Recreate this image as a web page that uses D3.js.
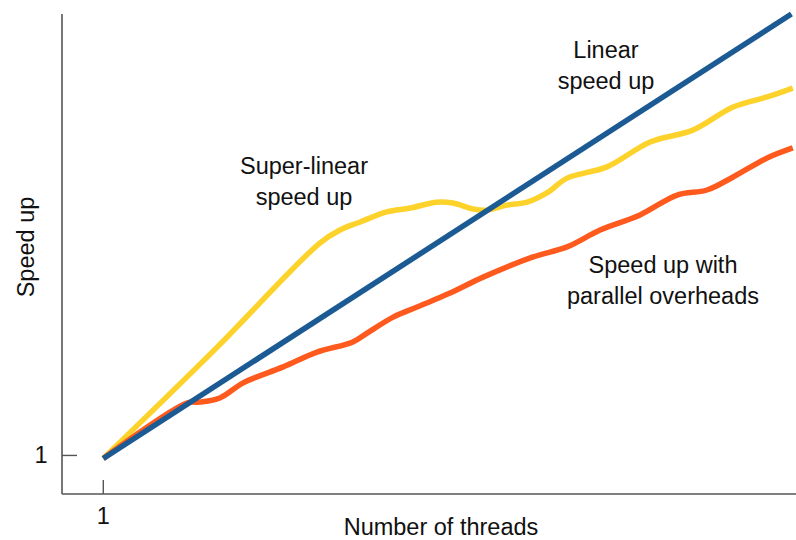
<!DOCTYPE html>
<html>
<head>
<meta charset="utf-8">
<script src="https://cdn.jsdelivr.net/npm/d3@7"></script>
<style>
  body { margin: 0; background: #fff; }
  text { font-family: "Liberation Sans", Arial, Helvetica, sans-serif; fill: #111; }
</style>
</head>
<body>
<div id="chart"></div>
<script>
// values (threads, speed up)
const linearX = [1, 16];
const linearY = [1, 16];

const superX = [1, 3.44, 5.72, 6.16, 6.60, 7.18, 7.69, 8.27, 8.62, 9.06, 9.36, 9.80, 10.24, 10.67, 11.11, 11.98, 12.92, 13.85, 14.73, 15.47, 16.03];
const superY = [1, 4.69, 8.27, 8.71, 8.98, 9.32, 9.45, 9.65, 9.62, 9.42, 9.38, 9.55, 9.65, 9.96, 10.46, 10.84, 11.68, 12.08, 12.86, 13.20, 13.50];

const overheadX = [1, 2.82, 3.11, 3.54, 4.05, 4.92, 5.66, 6.44, 6.75, 7.32, 7.84, 8.56, 9.28, 10.37, 11.11, 11.83, 12.70, 13.51, 14.16, 14.73, 15.47, 16.03];
const overheadY = [1, 2.87, 2.90, 3.04, 3.55, 4.09, 4.59, 4.93, 5.23, 5.77, 6.11, 6.58, 7.12, 7.80, 8.14, 8.71, 9.22, 9.89, 10.06, 10.50, 11.14, 11.48];

const xTicks = [1];
const yTicks = [1];

const width = 796, height = 540;

const svg = d3.select("#chart").append("svg")
  .attr("width", width)
  .attr("height", height);

const x = d3.scaleLinear().domain([0.1, 16.1]).range([62, 796]);
const y = d3.scaleLinear().domain([-0.2, 16]).range([494, 14]);

// axes
const axisColor = "#555";
svg.append("line")
  .attr("x1", x(0.1)).attr("x2", x(0.1))
  .attr("y1", y(16)).attr("y2", y(-0.2))
  .attr("stroke", axisColor).attr("stroke-width", 1.6);
svg.append("line")
  .attr("x1", x(0.1)).attr("x2", x(16.1))
  .attr("y1", y(-0.2)).attr("y2", y(-0.2))
  .attr("stroke", axisColor).attr("stroke-width", 1.6);

// ticks point inward
svg.selectAll(".ytick").data(yTicks).enter().append("line")
  .attr("x1", x(0.1)).attr("x2", x(0.1) + 15)
  .attr("y1", d => y(d) - 3).attr("y2", d => y(d) - 3)
  .attr("stroke", axisColor).attr("stroke-width", 1.4);
svg.selectAll(".ylab").data(yTicks).enter().append("text")
  .attr("x", 41).attr("y", d => y(d) + 5)
  .attr("text-anchor", "middle")
  .style("font-size", "23.5px")
  .text(d => d);

svg.selectAll(".xtick").data(xTicks).enter().append("line")
  .attr("x1", d => x(d)).attr("x2", d => x(d))
  .attr("y1", y(-0.2)).attr("y2", y(-0.2) - 14)
  .attr("stroke", axisColor).attr("stroke-width", 1.4);
svg.selectAll(".xlab").data(xTicks).enter().append("text")
  .attr("x", d => x(d)).attr("y", 524)
  .attr("text-anchor", "middle")
  .style("font-size", "23.5px")
  .text(d => d);

// axis titles
svg.append("text")
  .attr("x", 441).attr("y", 535)
  .attr("text-anchor", "middle")
  .style("font-size", "23.5px")
  .text("Number of threads");

svg.append("text")
  .attr("transform", "translate(34,247) rotate(-90)")
  .attr("text-anchor", "middle")
  .style("font-size", "23.5px")
  .text("Speed up");

// lines
const line = d3.line()
  .x(d => x(d[0]))
  .y(d => y(d[1]))
  .curve(d3.curveCatmullRom.alpha(0.5));

const series = [
  { xs: superX, ys: superY, color: "#fdd32b" },
  { xs: overheadX, ys: overheadY, color: "#ff5a1e" },
  { xs: linearX, ys: linearY, color: "#1b5a93" }
];

series.forEach(s => {
  svg.append("path")
    .datum(s.xs.map((v, i) => [v, s.ys[i]]))
    .attr("d", line)
    .attr("fill", "none")
    .attr("stroke", s.color)
    .attr("stroke-width", 5.5)
    .attr("stroke-linecap", "butt")
    .attr("stroke-linejoin", "round");
});

// annotations
const notes = [
  { lines: ["Linear", "speed up"], cx: 606, y0: 58 },
  { lines: ["Super-linear", "speed up"], cx: 304, y0: 174 },
  { lines: ["Speed up with", "parallel overheads"], cx: 663, y0: 273 }
];

notes.forEach(n => {
  n.lines.forEach((t, i) => {
    svg.append("text")
      .attr("x", n.cx)
      .attr("y", n.y0 + i * 31)
      .attr("text-anchor", "middle")
      .style("font-size", "23.5px")
      .text(t);
  });
});
</script>
</body>
</html>
